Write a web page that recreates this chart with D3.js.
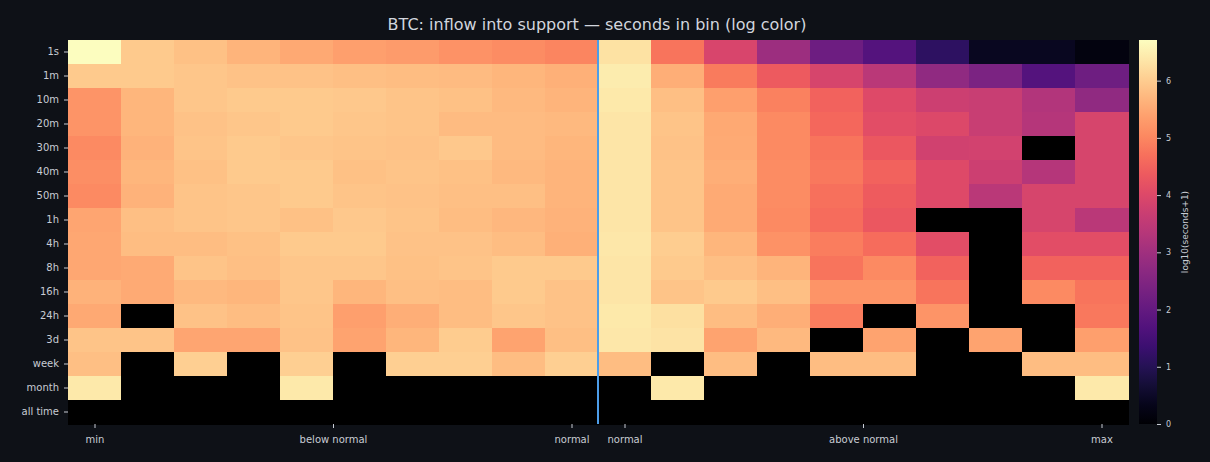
<!DOCTYPE html>
<html>
<head>
<meta charset="utf-8">
<script src="https://cdn.jsdelivr.net/npm/d3@7"></script>
<style>
	body { margin:0; background:#0e1117; }
	text { font-family: "DejaVu Sans", sans-serif; }
</style>
</head>
<body>
<div id="svg_container"></div>
<script>
/* -----------------------
data
------------------------- */

var rowLabels = ["1s","1m","10m","20m","30m","40m","50m","1h","4h","8h","16h","24h","3d","week","month","all time"];

// x tick labels and where they sit (column index units)
var xTickLabels = ["min","below normal","normal","normal","above normal","max"];
var xTickPos = [0, 4.5, 9, 10, 14.5, 19];

// position of the blue marker line (between col 9 and col 10)
var markerPos = 9.5;

// log10(seconds+1), one array per row, 20 columns
var v1s   = [6.71,5.97,5.84,5.64,5.50,5.37,5.30,5.17,5.10,5.00,6.30,4.76,3.93,2.95,2.15,1.75,1.15,0.40,0.40,0.20];
var v1m   = [5.95,5.95,5.90,5.87,5.85,5.80,5.78,5.75,5.67,5.60,6.45,5.58,4.87,4.37,3.90,3.42,2.75,2.40,1.75,2.20];
var v10m  = [5.20,5.67,5.90,5.95,5.95,5.94,5.88,5.82,5.74,5.66,6.40,5.80,5.36,4.95,4.50,4.03,3.70,3.65,3.28,2.74];
var v20m  = [5.20,5.67,5.87,5.92,5.97,5.92,5.88,5.75,5.76,5.73,6.35,5.88,5.50,5.08,4.57,4.10,4.00,3.65,3.35,3.90];
var v30m  = [5.07,5.62,5.88,5.95,5.92,5.88,5.87,5.94,5.75,5.68,6.35,5.87,5.52,5.08,4.75,4.30,3.80,3.82,0,3.90];
var v40m  = [5.12,5.67,5.84,5.95,5.96,5.84,5.88,5.82,5.74,5.66,6.35,5.88,5.56,5.10,4.80,4.50,4.02,3.72,3.35,3.90];
var v50m  = [5.07,5.63,5.88,5.92,5.96,5.88,5.85,5.80,5.81,5.66,6.35,5.88,5.53,5.10,4.70,4.40,4.02,3.42,3.88,3.88];
var v1h   = [5.43,5.80,5.88,5.92,5.84,5.94,5.88,5.77,5.70,5.63,6.35,5.88,5.52,5.08,4.65,4.32,0,0,3.88,3.43];
var v4h   = [5.47,5.78,5.77,5.84,5.95,5.95,5.85,5.85,5.78,5.60,6.38,6.02,5.68,5.18,4.90,4.66,4.10,0,4.10,4.10];
var v8h   = [5.47,5.52,5.88,5.80,5.90,5.90,5.84,5.88,5.95,5.95,6.35,5.96,5.81,5.66,4.76,5.08,4.50,0,4.50,4.50];
var v16h  = [5.62,5.52,5.73,5.68,5.90,5.68,5.81,5.79,5.95,5.85,6.35,5.88,5.95,5.80,5.20,5.20,4.77,0,5.07,4.75];
var v24h  = [5.50,0,5.87,5.78,5.88,5.37,5.56,5.78,5.90,5.85,6.40,6.28,5.78,5.56,4.88,0,5.20,0,0,4.80];
var v3d   = [5.88,5.88,5.43,5.43,5.85,5.40,5.68,5.98,5.40,5.80,6.38,6.32,5.40,5.72,0,5.40,0,5.40,0,5.35];
var vWeek = [5.80,0,6.05,0,6.05,0,6.05,6.05,5.78,6.05,5.78,0,5.78,0,5.78,5.78,0,0,5.78,5.78];
var vMonth= [6.41,0,0,0,6.41,0,0,0,0,0,0,6.41,0,0,0,0,0,0,0,6.41];
var vAll  = [0,0,0,0,0,0,0,0,0,0,0,0,0,0,0,0,0,0,0,0];

var rows = [v1s,v1m,v10m,v20m,v30m,v40m,v50m,v1h,v4h,v8h,v16h,v24h,v3d,vWeek,vMonth,vAll];

var colorTicks = [0,1,2,3,4,5,6];
var vmax = 6.71;

/* -----------------------
main variables
------------------------- */

var width = 1210;
var height = 462;
var margin = {top: 40, left: 68, right: 82, bottom: 38};
var nCols = v1s.length;

var svg = d3.select("#svg_container")
	.append("svg")
	.attr("width", width)
	.attr("height", height)
	.style("display", "block")

svg.append("rect")
	.attr("width", width)
	.attr("height", height)
	.attr("fill", "#0e1117")

var plotW = 1060, plotH = 384;

var x = d3.scaleLinear().domain([-0.5, nCols - 0.5]).range([0, plotW]);
var y = d3.scaleBand().domain(rowLabels).range([0, plotH]);
var color = d3.scaleSequential(d3.interpolateMagma).domain([0, vmax]);

var plot = svg.append("g")
	.attr("transform", "translate(" + margin.left + "," + margin.top + ")");

/* -----------------------
heatmap cells
------------------------- */

var cells = [];
rows.forEach(function (r, i) {
	r.forEach(function (v, j) {
		cells.push({row: rowLabels[i], col: j, v: v});
	});
});

plot.selectAll(".cell")
	.data(cells)
	.enter()
	.append("rect")
	.attr("class", "cell")
	.attr("x", function (d) { return x(d.col - 0.5); })
	.attr("y", function (d) { return y(d.row); })
	.attr("width", x(1) - x(0) + 0.5)
	.attr("height", y.bandwidth() + 0.5)
	.attr("fill", function (d) { return d.v <= 0 ? "#000000" : color(d.v); })
	.attr("shape-rendering", "crispEdges")

// marker line
plot.append("line")
	.attr("x1", x(markerPos)).attr("x2", x(markerPos))
	.attr("y1", 0).attr("y2", plotH)
	.attr("stroke", "#4d9de8")
	.attr("stroke-width", 2)

/* -----------------------
axes
------------------------- */

var yAxis = plot.append("g")
	.call(d3.axisLeft(y).tickSize(4).tickPadding(5))
yAxis.select(".domain").remove()

var xAxis = plot.append("g")
	.attr("transform", "translate(0," + plotH + ")")
	.call(d3.axisBottom(x).tickValues(xTickPos).tickSize(4).tickPadding(8)
		.tickFormat(function (d, i) { return xTickLabels[i]; }))
xAxis.select(".domain").remove()

svg.selectAll(".tick line").attr("stroke", "#c8ccd4")
svg.selectAll(".tick text").attr("fill", "#c8ccd4").style("font-size", "10px")

/* -----------------------
title
------------------------- */

svg.append("text")
	.attr("x", 597)
	.attr("y", 30)
	.attr("text-anchor", "middle")
	.attr("fill", "#d2d6de")
	.style("font-size", "16px")
	.text("BTC: inflow into support \u2014 seconds in bin (log color)")

/* -----------------------
colorbar
------------------------- */

var cbX = 1139, cbW = 18;
var cbScale = d3.scaleLinear().domain([0, vmax]).range([plotH, 0]);

var defs = svg.append("defs");
var grad = defs.append("linearGradient")
	.attr("id", "cbgrad")
	.attr("x1", 0).attr("y1", 1).attr("x2", 0).attr("y2", 0);
d3.range(0, 1.0001, 0.05).forEach(function (t) {
	grad.append("stop")
		.attr("offset", t)
		.attr("stop-color", d3.interpolateMagma(t));
});

var cb = svg.append("g")
	.attr("transform", "translate(" + cbX + "," + margin.top + ")");

cb.append("rect")
	.attr("width", cbW)
	.attr("height", plotH)
	.attr("fill", "url(#cbgrad)")

var cbAxis = cb.append("g")
	.attr("transform", "translate(" + cbW + ",0)")
	.call(d3.axisRight(cbScale).tickValues(colorTicks).tickSize(4).tickPadding(5)
		.tickFormat(d3.format("d")))
cbAxis.select(".domain").remove()
cbAxis.selectAll(".tick line").attr("stroke", "#c8ccd4")
cbAxis.selectAll(".tick text").attr("fill", "#c8ccd4").style("font-size", "8px")

svg.append("text")
	.attr("transform", "translate(1188," + (margin.top + plotH / 2) + ") rotate(-90)")
	.attr("text-anchor", "middle")
	.attr("fill", "#c8ccd4")
	.style("font-size", "9px")
	.text("log10(seconds+1)")
</script>
</body>
</html>
